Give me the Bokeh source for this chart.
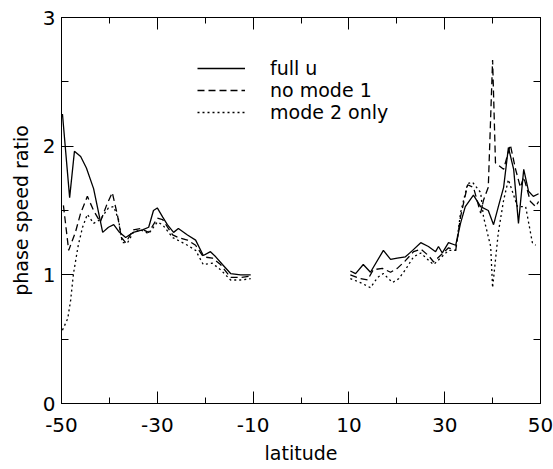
from bokeh.plotting import figure
from bokeh.models import Range1d, FixedTicker, LinearAxis, Legend, LegendItem
from bokeh.embed import file_html
from bokeh.resources import INLINE

# ---- data ----
lat_full_s = [-49.8, -48.3, -47.3, -46.0, -44.8, -43.3, -41.4, -40.2, -39.1, -37.9, -36.6, -35.0,
              -33.1, -31.8, -30.8, -30.0, -28.9, -27.9, -26.6, -25.6, -23.7, -22.0, -20.4, -18.9,
              -17.8, -16.4, -14.7, -12.6, -10.5]
full_s = [2.25, 1.60, 1.96, 1.92, 1.83, 1.67, 1.33, 1.37, 1.39, 1.33, 1.29, 1.33,
          1.35, 1.37, 1.50, 1.52, 1.45, 1.39, 1.33, 1.36, 1.31, 1.27, 1.15, 1.18,
          1.14, 1.08, 1.01, 1.00, 1.00]

lat_nom1_s = [-49.6, -48.5, -47.1, -46.0, -44.6, -43.3, -41.9, -40.6, -39.4, -38.3, -37.5, -36.6,
              -35.0, -33.5, -31.8, -30.0, -28.9, -26.8, -25.6, -23.7, -22.0, -20.4, -18.5, -16.8,
              -14.7, -12.6, -10.5]
nom1_s = [1.54, 1.19, 1.33, 1.48, 1.61, 1.50, 1.41, 1.54, 1.64, 1.46, 1.29, 1.25,
          1.35, 1.36, 1.33, 1.44, 1.43, 1.31, 1.29, 1.27, 1.23, 1.14, 1.13, 1.08,
          0.98, 0.98, 0.99]

lat_m2_s = [-49.8, -48.7, -48.1, -47.5, -46.5, -45.6, -44.6, -43.3, -41.9, -40.2, -39.1, -38.1,
            -37.3, -36.2, -35.0, -33.5, -31.8, -30.0, -28.9, -26.8, -23.7, -22.0, -20.4, -18.5,
            -16.8, -14.7, -12.6, -10.5]
m2_s = [0.57, 0.66, 0.80, 1.01, 1.23, 1.37, 1.47, 1.40, 1.43, 1.52, 1.53, 1.43,
        1.25, 1.25, 1.33, 1.35, 1.32, 1.41, 1.39, 1.29, 1.23, 1.19, 1.08, 1.09,
        1.04, 0.96, 0.96, 0.97]

lat_full_n = [10.3, 11.4, 13.0, 14.5, 17.2, 18.7, 20.1, 21.8, 23.3, 25.0, 26.6, 28.1, 28.7, 29.5,
              30.8, 32.3, 33.3, 34.3, 36.0, 37.5, 39.1, 40.2, 41.2, 42.3, 43.3, 44.4, 45.4, 46.5,
              47.5, 48.5, 49.6]
full_n = [1.03, 1.01, 1.08, 1.02, 1.19, 1.12, 1.13, 1.14, 1.19, 1.25, 1.22, 1.18, 1.22, 1.17,
          1.25, 1.23, 1.40, 1.53, 1.62, 1.53, 1.50, 1.39, 1.53, 1.68, 1.99, 1.82, 1.40, 1.82,
          1.65, 1.61, 1.63]

lat_nom1_n = [10.3, 12.4, 13.9, 15.1, 17.0, 18.7, 20.1, 21.8, 23.5, 25.0, 26.6, 27.7, 29.1, 30.8,
              32.3, 33.3, 34.8, 36.0, 37.5, 38.1, 39.1, 40.0, 40.6, 42.3, 43.7, 44.8, 45.8, 46.5,
              47.9, 49.0, 49.6]
nom1_n = [1.00, 0.97, 0.96, 1.04, 1.05, 1.02, 1.05, 1.11, 1.18, 1.20, 1.15, 1.10, 1.15, 1.21,
          1.19, 1.45, 1.70, 1.68, 1.48, 1.58, 1.68, 2.67, 1.87, 1.82, 2.01, 1.82, 1.68, 1.76,
          1.57, 1.53, 1.57]

lat_m2_n = [10.3, 12.4, 14.5, 16.0, 17.2, 19.1, 20.4, 21.8, 23.5, 25.0, 27.0, 27.7, 29.1, 30.8,
            32.3, 33.3, 34.8, 35.8, 37.5, 38.1, 39.6, 40.0, 41.2, 42.3, 43.3, 45.2, 46.9, 48.3,
            49.0]
m2_n = [0.97, 0.94, 0.90, 0.98, 1.01, 0.94, 0.97, 1.04, 1.14, 1.17, 1.10, 1.08, 1.13, 1.19,
        1.19, 1.48, 1.71, 1.72, 1.64, 1.45, 1.22, 0.90, 1.33, 1.58, 1.74, 1.53, 1.53, 1.25,
        1.23]

series_labels = ["full u", "no mode 1", "mode 2 only"]
x_ticks = [-50, -30, -10, 10, 30, 50]
x_tick_labels = ["-50", "-30", "-10", "10", "30", "50"]
x_minor = [-40, -20, 0, 20, 40]
y_ticks = [0, 1, 2, 3]
y_tick_labels = ["0", "1", "2", "3"]
y_minor = [0.5, 1.5, 2.5]

FONT = "DejaVu Sans"

p = figure(width=553, height=469, output_backend="svg", toolbar_location=None,
           x_range=Range1d(-50, 50), y_range=Range1d(0, 3),
           min_border_left=61, min_border_right=13, min_border_top=17, min_border_bottom=66,
           x_axis_label="latitude", y_axis_label="phase speed ratio")
p.background_fill_color = "white"
p.border_fill_color = "white"
p.xgrid.visible = False
p.ygrid.visible = False
p.outline_line_color = "black"
p.outline_line_width = 1

styles = [dict(line_dash="solid"), dict(line_dash="7 4"), dict(line_dash="2 3")]
lw = 1.3
r_full_s = p.line(lat_full_s, full_s, line_color="black", line_width=lw, **styles[0])
r_full_n = p.line(lat_full_n, full_n, line_color="black", line_width=lw, **styles[0])
r_nom1_s = p.line(lat_nom1_s, nom1_s, line_color="black", line_width=lw, **styles[1])
r_nom1_n = p.line(lat_nom1_n, nom1_n, line_color="black", line_width=lw, **styles[1])
r_m2_s = p.line(lat_m2_s, m2_s, line_color="black", line_width=lw, **styles[2])
r_m2_n = p.line(lat_m2_n, m2_n, line_color="black", line_width=lw, **styles[2])


def style_axis(ax, ticks, minor, major_len, minor_len, labels=None):
    ax.ticker = FixedTicker(ticks=ticks, minor_ticks=minor)
    ax.axis_line_color = "black"
    ax.axis_line_width = 1
    ax.major_tick_line_color = "black"
    ax.minor_tick_line_color = "black"
    ax.major_tick_in = major_len
    ax.major_tick_out = 0
    ax.minor_tick_in = minor_len
    ax.minor_tick_out = 0
    if labels is not None:
        ax.major_label_overrides = {t: s for t, s in zip(ticks, labels)}
        ax.major_label_text_font = FONT
        ax.major_label_text_font_size = "20px"
        ax.major_label_text_color = "black"
        ax.axis_label_text_font = FONT
        ax.axis_label_text_font_size = "19px"
        ax.axis_label_text_font_style = "normal"
        ax.axis_label_text_color = "black"
    else:
        ax.major_label_text_font_size = "0px"


style_axis(p.xaxis[0], x_ticks, x_minor, 12, 6, x_tick_labels)
style_axis(p.yaxis[0], y_ticks, y_minor, 12, 7, y_tick_labels)
p.xaxis[0].major_label_standoff = 14
p.xaxis[0].axis_label_standoff = 7
p.yaxis[0].major_label_standoff = 6
p.yaxis[0].axis_label_standoff = 8

top_ax = LinearAxis()
style_axis(top_ax, x_ticks, x_minor, 12, 6)
p.add_layout(top_ax, "above")
right_ax = LinearAxis()
style_axis(right_ax, y_ticks, y_minor, 12, 7)
p.add_layout(right_ax, "right")

legend = Legend(items=[LegendItem(label=series_labels[0], renderers=[r_full_s]),
                       LegendItem(label=series_labels[1], renderers=[r_nom1_s]),
                       LegendItem(label=series_labels[2], renderers=[r_m2_s])],
                location=(136, 280))
legend.border_line_color = None
legend.background_fill_alpha = 0
legend.padding = 0
legend.margin = 0
legend.spacing = 0
legend.glyph_width = 48
legend.glyph_height = 22
legend.label_height = 22
legend.label_standoff = 25
legend.label_text_font = FONT
legend.label_text_font_size = "19px"
legend.label_text_color = "black"
p.add_layout(legend, "center")

open("out.html", "w").write(file_html(p, INLINE))
